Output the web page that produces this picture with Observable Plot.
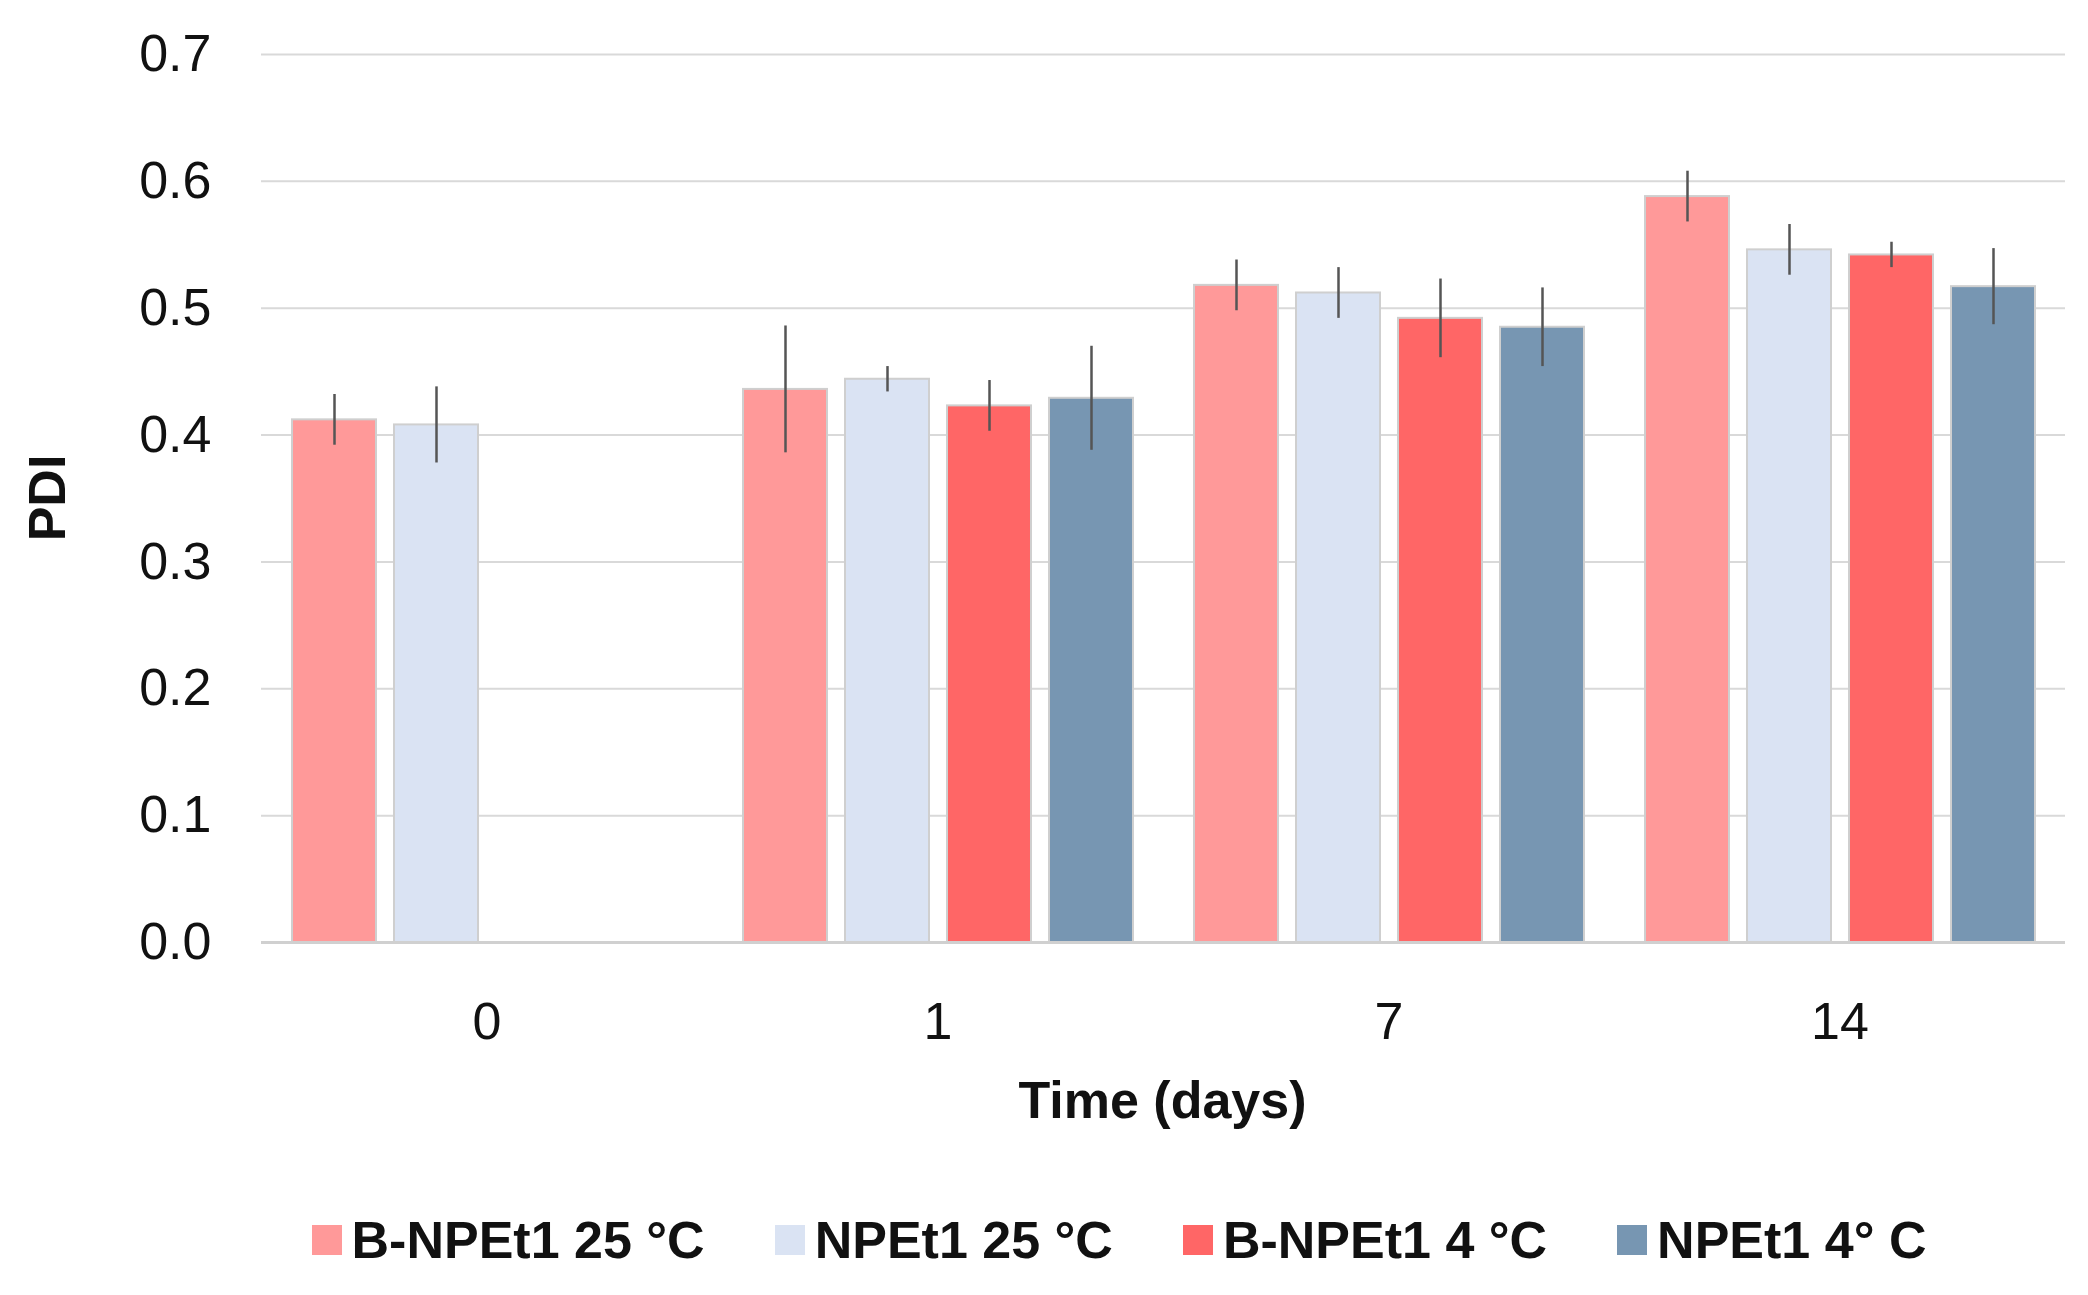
<!DOCTYPE html>
<html><head><meta charset="utf-8">
<script src="https://cdn.jsdelivr.net/npm/d3@7"></script>
<script src="https://cdn.jsdelivr.net/npm/@observablehq/plot@0.6"></script>
<style>
body{margin:0;background:#fff;font-family:Arial,"Liberation Sans",sans-serif;}
#wrap{position:relative;width:2088px}
#xt{position:absolute;left:259px;width:1807px;top:1070px;text-align:center;font-size:52px;font-weight:bold;color:#111}
#yt{position:absolute;left:47px;top:498px;transform:translate(-50%,-50%) rotate(-90deg);font-size:52px;font-weight:bold;color:#111}
#legend{display:flex;justify-content:center;gap:70px;font-size:52px;font-weight:bold;color:#111;margin-top:60px;padding-left:150px}
#legend span{display:inline-flex;align-items:center}
#legend i{display:inline-block;width:30px;height:30px;margin-right:10px}
</style></head><body>
<div id="wrap"><div id="chart"></div><div id="xt">Time (days)</div><div id="yt">PDI</div></div>
<div id="legend"></div>
<script>
const days = ["0","1","7","14"];
const series = ["B-NPEt1 25 °C","NPEt1 25 °C","B-NPEt1 4 °C","NPEt1 4° C"];
const colors = ["#FF9999","#DAE3F3","#FF6666","#7796B2"];
const means = [
  [0.412,0.408,null,null],
  [0.436,0.444,0.423,0.429],
  [0.518,0.512,0.492,0.485],
  [0.588,0.546,0.542,0.517]
];
const errs = [
  [0.020,0.030,null,null],
  [0.050,0.010,0.020,0.041],
  [0.020,0.020,0.031,0.031],
  [0.020,0.020,0.010,0.030]
];
const yTicks = [0,0.1,0.2,0.3,0.4,0.5,0.6,0.7];
const data = [];
days.forEach((d,i)=>series.forEach((s,j)=>{ if(means[i][j]!=null) data.push({day:d,series:s,v:means[i][j],e:errs[i][j]}); }));
const errColor="#555";
const chart = Plot.plot({
  width:2088, height:1150,
  marginTop:54, marginBottom:208, marginLeft:259, marginRight:22,
  style:{fontFamily:"Arial, 'Liberation Sans', sans-serif", fontSize:"52px", color:"#111"},
  fx:{domain:days, padding:0, label:null, axis:null},
  x:{domain:series, padding:0.18, paddingOuter:0.3, axis:null},
  y:{domain:[0,0.7], label:null, axis:null},
  color:{domain:series, range:colors},
  marks:[
    Plot.gridY(yTicks,{stroke:"#d9d9d9", strokeOpacity:1, strokeWidth:2}),
    Plot.barY(data,{fx:"day", x:"series", y:"v", fill:"series", stroke:"#cfcfcf", strokeWidth:2}),
    Plot.ruleX(data,{fx:"day", x:"series", y1:d=>d.v-d.e, y2:d=>d.v+d.e, stroke:errColor, strokeWidth:2.5}),
    Plot.ruleY(data,{fx:"day", x:"series", y:d=>d.v-d.e, stroke:errColor, strokeWidth:2.5, insetLeft:21, insetRight:21}),
    Plot.ruleY(data,{fx:"day", x:"series", y:d=>d.v+d.e, stroke:errColor, strokeWidth:2.5, insetLeft:21, insetRight:21}),
    Plot.ruleY([0],{stroke:"#d0d0d0", strokeWidth:3}),
    Plot.axisY(yTicks,{anchor:"left", tickFormat:d3.format(".1f"), tickSize:0, tickPadding:50, fontSize:52, label:null}),
    Plot.axisFx({anchor:"bottom", tickSize:0, tickPadding:60, fontSize:52, label:null})
  ]
});
document.getElementById("chart").append(chart);
const lg=document.getElementById("legend");
series.forEach((s,i)=>{const sp=document.createElement("span");sp.innerHTML=`<i style="background:${colors[i]}"></i>${s}`;lg.append(sp);});
</script>
</body></html>
